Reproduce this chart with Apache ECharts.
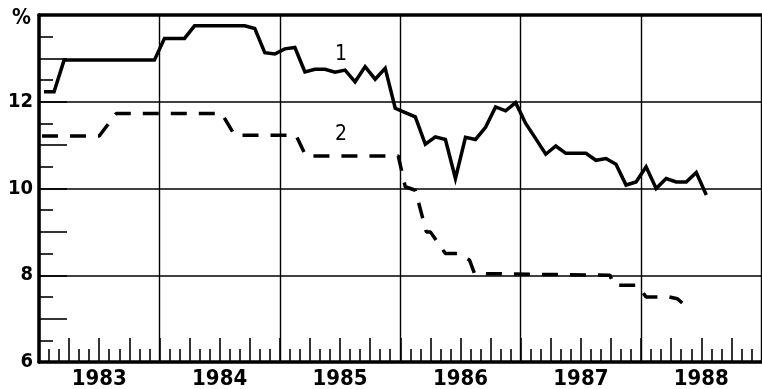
<!DOCTYPE html>
<html>
<head>
<meta charset="utf-8">
<script src="https://cdn.jsdelivr.net/npm/echarts/dist/echarts.min.js"></script>
<style>
  html, body { margin: 0; padding: 0; background: #fff; }
  #chart { width: 762px; height: 389px; }
</style>
</head>
<body>
<div id="chart"></div>
<script>
// Year labels shown under the middle of each year
const years = ['1983', '1984', '1985', '1986', '1987', '1988'];

// Line 1: monthly values, Jan 1983 onward (%)
const line1 = [
  12.23, 12.23, 12.96, 12.96, 12.96, 12.96, 12.96, 12.96, 12.96, 12.96, 12.96, 12.96,
  13.46, 13.46, 13.46, 13.75, 13.75, 13.75, 13.75, 13.75, 13.75, 13.69, 13.13, 13.10,
  13.22, 13.25, 12.69, 12.75, 12.75, 12.68, 12.73, 12.46, 12.81, 12.52, 12.77, 11.85,
  11.75, 11.65, 11.02, 11.19, 11.13, 10.23, 11.18, 11.13, 11.41, 11.88, 11.79, 11.98,
  11.50, 11.15, 10.79, 10.98, 10.81, 10.81, 10.81, 10.65, 10.69, 10.56, 10.08, 10.15,
  10.50, 10.00, 10.23, 10.15, 10.15, 10.37, 9.85
];

// Line 2: dates of each change (months since Jan 1983) and the rate at that date (%)
const line2Months = [
  0.3, 6.0, 7.7, 18.2, 19.5, 25.6, 26.6, 35.8, 36.5, 37.5, 38.6, 39.0,
  40.5, 41.7, 42.9, 43.4, 56.9, 57.3, 59.6, 60.5, 62.8, 63.6, 64.1
];
const line2Values = [
  11.21, 11.21, 11.73, 11.73, 11.23, 11.23, 10.75, 10.75, 10.04, 9.96, 9.00, 9.00,
  8.50, 8.50, 8.35, 8.04, 8.00, 7.77, 7.77, 7.50, 7.50, 7.46, 7.36
];

// Tags placed next to each line: [month, value]
const tag1 = [30.1, 13.08];
const tag2 = [30.1, 11.25];

const line1Data = line1.map((v, i) => [i + 0.5, v]);   // plotted mid-month
const line2Data = line2Months.map((m, i) => [m, line2Values[i]]);

const ink = '#000';
const fontFamily = 'DejaVu Sans Condensed, DejaVu Sans, sans-serif';
const boldFont = { fontFamily: fontFamily, fontWeight: 'bold', color: ink };

const chart = echarts.init(document.getElementById('chart'), null, { renderer: 'canvas' });
chart.setOption({
  animation: false,
  backgroundColor: '#fff',
  grid: { left: 39, right: 0.5, top: 15, bottom: 27, outerBoundsMode: 'none', containLabel: false },
  xAxis: [
    { // year grid + bottom frame
      type: 'value', min: 0, max: 72, interval: 12, position: 'bottom',
      axisLine: { show: true, onZero: false, lineStyle: { color: ink, width: 3.5 } },
      axisTick: { show: false }, axisLabel: { show: false },
      splitLine: { show: true, lineStyle: { color: ink, width: 1.4 } }
    },
    { // quarter (long) and month (short) ticks
      type: 'value', min: 0, max: 72, interval: 3, position: 'bottom',
      axisLine: { show: false },
      axisTick: { show: true, inside: true, length: 24, lineStyle: { color: ink, width: 1.6 } },
      minorTick: { show: true, splitNumber: 3, length: 13, lineStyle: { color: ink, width: 1.6 } },
      axisLabel: { show: false }, splitLine: { show: false }
    },
    { // year names
      type: 'value', min: 0, max: 72, interval: 6, position: 'bottom',
      axisLine: { show: false }, axisTick: { show: false }, splitLine: { show: false },
      axisLabel: Object.assign({
        fontSize: 22, margin: 6, showMinLabel: false, showMaxLabel: false,
        formatter: v => (v % 12 === 6 ? years[(v - 6) / 12] : '')
      }, boldFont)
    },
    { // top frame
      type: 'value', min: 0, max: 72, position: 'top',
      axisLine: { show: true, onZero: false, lineStyle: { color: ink, width: 3.5 } },
      axisTick: { show: false }, axisLabel: { show: false }, splitLine: { show: false }
    }
  ],
  yAxis: [
    { // value grid + left frame + labels
      type: 'value', min: 6, max: 14, interval: 2, position: 'left',
      axisLine: { show: true, onZero: false, lineStyle: { color: ink, width: 3.5 } },
      axisTick: { show: false },
      axisLabel: Object.assign({
        fontSize: 20, margin: 6,
        formatter: v => (v === 14 ? '{pct|%}' : String(v)),
        rich: {
          pct: { fontFamily: fontFamily, fontWeight: 'bold', color: ink, fontSize: 21, padding: [8, 2, 0, 0] }
        }
      }, boldFont),
      splitLine: { show: true, lineStyle: { color: ink, width: 1.6 } }
    },
    { // whole-unit (long) and half-unit (short) ticks
      type: 'value', min: 6, max: 14, interval: 1, position: 'left',
      axisLine: { show: false },
      axisTick: { show: true, inside: true, length: 28, lineStyle: { color: ink, width: 1.6 } },
      minorTick: { show: true, splitNumber: 2, length: 14, lineStyle: { color: ink, width: 1.6 } },
      axisLabel: { show: false }, splitLine: { show: false }
    },
    { // right frame
      type: 'value', min: 6, max: 14, position: 'right',
      axisLine: { show: true, onZero: false, lineStyle: { color: ink, width: 1.5 } },
      axisTick: { show: false }, axisLabel: { show: false }, splitLine: { show: false }
    }
  ],
  series: [
    {
      name: '1', type: 'line', xAxisIndex: 0, yAxisIndex: 0,
      data: line1Data, showSymbol: false, silent: true,
      lineStyle: { color: ink, width: 3.5, join: 'miter' },
      markPoint: {
        symbol: 'circle', symbolSize: 1, itemStyle: { color: 'transparent' },
        label: { show: true, position: 'inside', fontFamily: fontFamily, fontSize: 21, fontWeight: 'normal', color: ink, formatter: '1' },
        data: [{ coord: tag1 }]
      }
    },
    {
      name: '2', type: 'line', xAxisIndex: 0, yAxisIndex: 0,
      data: line2Data, showSymbol: false, silent: true,
      lineStyle: { color: ink, width: 3.5, type: [16, 12] },
      markPoint: {
        symbol: 'circle', symbolSize: 1, itemStyle: { color: 'transparent' },
        label: { show: true, position: 'inside', fontFamily: fontFamily, fontSize: 21, fontWeight: 'normal', color: ink, formatter: '2' },
        data: [{ coord: tag2 }]
      }
    }
  ]
});
</script>
</body>
</html>
